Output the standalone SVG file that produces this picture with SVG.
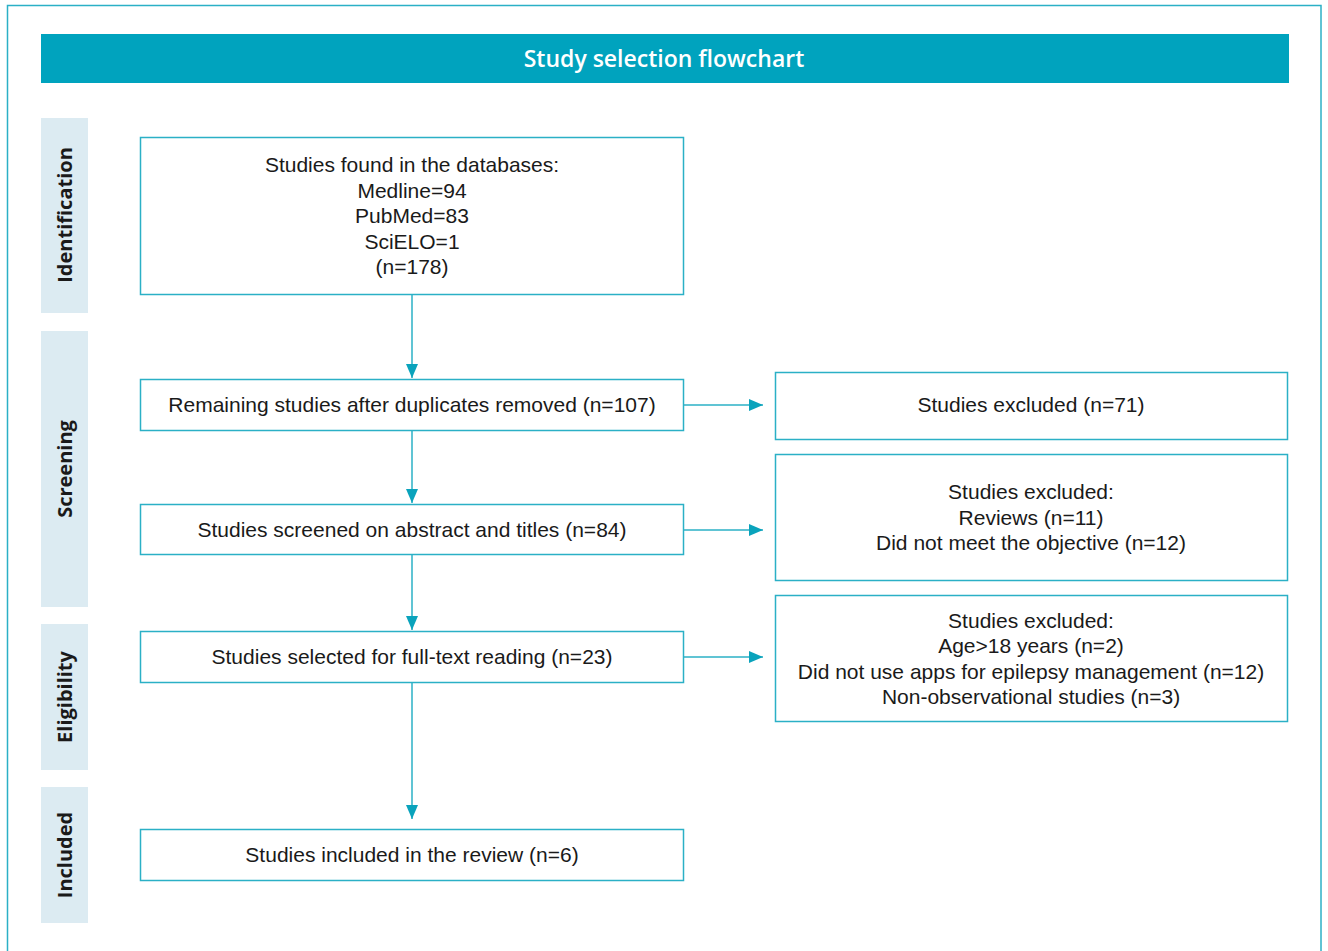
<svg xmlns="http://www.w3.org/2000/svg" width="1328" height="951" viewBox="0 0 1328 951">
<defs>
<marker id="ah" viewBox="0 0 14 12" refX="14" refY="6" markerWidth="14" markerHeight="12" markerUnits="userSpaceOnUse" orient="auto">
<path d="M0,0 L14,6 L0,12 Z" fill="#0aa3bc"/>
</marker>
<style>
.box{fill:#fff;stroke:#2bb0c6;stroke-width:1.5}
.side{fill:#dcebf2}
.sl{font-family:"Open Sans","DejaVu Sans",sans-serif;font-weight:bold;font-size:20px;fill:#1a1a1a;text-anchor:middle}
.t{font-family:"Liberation Sans",Arial,sans-serif;font-size:21px;fill:#1a1a1a;text-anchor:middle}
.c{stroke:#2bb0c6;stroke-width:1.5;fill:none;marker-end:url(#ah)}
</style>
</defs>
<rect x="0" y="0" width="1328" height="951" fill="#fff"/>
<rect x="7.5" y="5.5" width="1313.5" height="960" fill="none" stroke="#2bb0c6" stroke-width="1.5"/>
<g id="title">
<rect x="41" y="34" width="1248" height="49" fill="#00a3be"/>
<text x="664" y="67" font-family="Open Sans, DejaVu Sans, sans-serif" font-weight="600" font-size="23" fill="#fff" text-anchor="middle">Study selection flowchart</text>
</g>
<g id="stage-identification">
<rect class="side" x="41" y="118" width="47" height="195"/>
<text class="sl" transform="translate(72,215) rotate(-90)">Identification</text>
</g>
<g id="stage-screening">
<rect class="side" x="41" y="331" width="47" height="276"/>
<text class="sl" transform="translate(72,469) rotate(-90)">Screening</text>
</g>
<g id="stage-eligibility">
<rect class="side" x="41" y="624" width="47" height="146"/>
<text class="sl" transform="translate(72,697) rotate(-90)">Eligibility</text>
</g>
<g id="stage-included">
<rect class="side" x="41" y="787" width="47" height="136"/>
<text class="sl" transform="translate(72,855) rotate(-90)">Included</text>
</g>
<g id="connectors">
<line class="c" x1="412" y1="294" x2="412" y2="378"/>
<line class="c" x1="412" y1="431" x2="412" y2="503"/>
<line class="c" x1="412" y1="555" x2="412" y2="630"/>
<line class="c" x1="412" y1="682" x2="412" y2="819"/>
<line class="c" x1="684" y1="405" x2="763" y2="405"/>
<line class="c" x1="684" y1="530" x2="763" y2="530"/>
<line class="c" x1="684" y1="657" x2="763" y2="657"/>
</g>
<g id="n-found">
<rect class="box" x="140.5" y="137.5" width="543" height="157"/>
<text class="t" x="412" y="172">Studies found in the databases:</text>
<text class="t" x="412" y="198">Medline=94</text>
<text class="t" x="412" y="223">PubMed=83</text>
<text class="t" x="412" y="249">SciELO=1</text>
<text class="t" x="412" y="274">(n=178)</text>
</g>
<g id="n-remaining">
<rect class="box" x="140.5" y="379.5" width="543" height="51"/>
<text class="t" x="412" y="412">Remaining studies after duplicates removed (n=107)</text>
</g>
<g id="n-screened">
<rect class="box" x="140.5" y="504.5" width="543" height="50"/>
<text class="t" x="412" y="537">Studies screened on abstract and titles (n=84)</text>
</g>
<g id="n-fulltext">
<rect class="box" x="140.5" y="631.5" width="543" height="51"/>
<text class="t" x="412" y="664">Studies selected for full-text reading (n=23)</text>
</g>
<g id="n-included">
<rect class="box" x="140.5" y="829.5" width="543" height="51"/>
<text class="t" x="412" y="862">Studies included in the review (n=6)</text>
</g>
<g id="n-excl1">
<rect class="box" x="775.5" y="372.5" width="512" height="67"/>
<text class="t" x="1031" y="412">Studies excluded (n=71)</text>
</g>
<g id="n-excl2">
<rect class="box" x="775.5" y="454.5" width="512" height="126"/>
<text class="t" x="1031" y="499">Studies excluded:</text>
<text class="t" x="1031" y="525">Reviews (n=11)</text>
<text class="t" x="1031" y="550">Did not meet the objective (n=12)</text>
</g>
<g id="n-excl3">
<rect class="box" x="775.5" y="595.5" width="512" height="126"/>
<text class="t" x="1031" y="628">Studies excluded:</text>
<text class="t" x="1031" y="653">Age&gt;18 years (n=2)</text>
<text class="t" x="1031" y="679">Did not use apps for epilepsy management (n=12)</text>
<text class="t" x="1031" y="704">Non-observational studies (n=3)</text>
</g>
</svg>
